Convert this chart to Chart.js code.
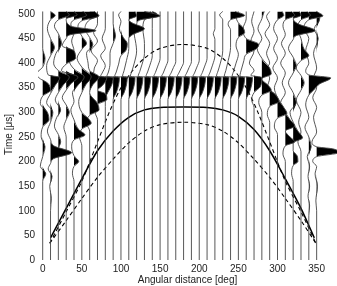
<!DOCTYPE html>
<html>
<head>
<meta charset="utf-8">
<script src="https://cdn.jsdelivr.net/npm/chart.js@4"></script>
<style>
  html, body { margin: 0; padding: 0; background: #fff; }
</style>
</head>
<body>
<canvas id="chart" width="337" height="286"></canvas>
<script>
  // trace positions (deg) and axis ticks
  const angles = [0, 10, 20, 30, 40, 50, 60, 70, 80, 90, 100, 110, 120, 130, 140, 150, 160, 170,
                  180, 190, 200, 210, 220, 230, 240, 250, 260, 270, 280, 290, 300, 310, 320, 330, 340, 350];
  const angleTicks = [0, 50, 100, 150, 200, 250, 300, 350];
  const timeTicks = [0, 50, 100, 150, 200, 250, 300, 350, 400, 450, 500];

  // wiggles: [time µs, amplitude deg], top to bottom
  const w000 = [[505,0],[430,0],[410,3],[392,0],[378,-8],[368,-3],[360,6],[345,10],[333,0],[318,-3],[300,6],[285,8],[270,0],[250,-2],[230,3],[210,0],[190,-3],[175,4],[160,0],[0,0]];
  const w010 = [[505,0],[497,6],[488,0],[470,-4],[450,0],[432,5],[415,0],[395,-5],[376,-3],[371,12],[355,6],[338,0],[320,-5],[300,3],[280,0],[262,-4],[245,0],[232,4],[218,27],[206,4],[196,0],[185,-3],[170,2],[150,-1],[125,1],[100,0],[0,0]];
  const w020 = [[505,10],[498,14],[488,0],[475,-5],[460,0],[440,4],[420,-3],[400,-6],[385,0],[372,14],[355,6],[340,0],[325,-4],[305,3],[290,-2],[272,-5],[255,0],[240,3],[225,0],[0,0]];
  const w030 = [[505,10],[498,14],[490,0],[475,6],[466,38],[458,6],[450,0],[435,-5],[425,10],[410,12],[398,0],[385,-6],[372,15],[358,6],[345,0],[330,-5],[315,0],[300,4],[285,0],[270,-3],[250,0],[0,0]];
  const w040 = [[505,12],[497,16],[488,0],[478,-4],[462,0],[445,-3],[425,0],[405,-6],[388,0],[372,13],[355,5],[340,-2],[322,0],[305,-4],[285,0],[265,6],[254,14],[244,0],[230,-3],[212,0],[200,6],[190,0],[175,-2],[160,0],[0,0]];
  const w050 = [[505,16],[496,22],[486,0],[472,-5],[455,0],[440,6],[428,0],[410,-6],[392,0],[372,12],[356,5],[340,0],[322,-4],[300,0],[288,8],[278,12],[266,0],[250,-3],[232,0],[0,0]];
  const w060 = [[505,6],[496,10],[488,0],[470,-6],[452,0],[438,4],[420,-4],[400,-2],[385,0],[372,12],[356,4],[340,0],[318,10],[305,12],[294,0],[278,-4],[262,0],[0,0]];
  const w070 = [[505,0],[480,0],[462,-5],[445,0],[425,-8],[405,0],[390,-4],[374,-5],[371,12],[354,6],[345,0],[338,10],[326,12],[316,0],[300,-3],[285,0],[0,0]];
  const w080 = [[505,0],[470,0],[450,-4],[430,0],[415,-6],[395,0],[380,-4],[373,-6],[371,10],[355,8],[340,3],[328,0],[312,0],[0,0]];
  const w090 = [[505,0],[480,0],[455,3],[440,0],[420,-4],[400,-4],[382,-6],[373,-8],[371,8],[356,7],[340,4],[326,0],[0,0]];
  const w100 = [[505,0],[498,-3],[485,0],[470,-2],[452,3],[440,8],[425,6],[415,0],[398,-3],[382,-6],[373,-8],[371,8],[356,7],[340,4],[326,0],[0,0]];
  const w110 = [[505,8],[496,10],[488,0],[482,4],[470,20],[458,5],[450,0],[430,0],[405,-3],[385,-6],[373,-8],[371,8],[356,7],[340,4],[326,0],[0,0]];
  const w120 = [[505,10],[496,30],[488,5],[480,0],[460,-3],[440,-1],[425,0],[400,-3],[384,-6],[373,-8],[371,8],[356,7],[340,4],[326,0],[0,0]];
  const w130 = [[505,8],[496,12],[488,0],[470,-2],[440,0],[420,0],[398,-3],[383,-6],[373,-8],[371,8],[356,7],[340,4],[326,0],[0,0]];
  const w140 = [[505,0],[500,6],[490,0],[470,0],[415,0],[396,-3],[382,-6],[373,-8],[371,8],[356,7],[340,4],[326,0],[0,0]];
  const w150 = [[505,0],[410,0],[394,-3],[381,-6],[373,-8],[371,8],[356,7],[340,4],[326,0],[0,0]];
  const w160 = [[505,0],[406,0],[392,-3],[380,-6],[373,-8],[371,8],[356,7],[340,4],[326,0],[0,0]];
  const w170 = [[505,0],[403,0],[391,-3],[380,-6],[373,-8],[371,8],[356,7],[340,4],[326,0],[0,0]];
  const w180 = [[505,0],[402,0],[390,-3],[380,-6],[373,-8],[371,8],[356,7],[340,4],[326,0],[0,0]];
  const w190 = [[505,0],[403,0],[391,-3],[380,-6],[373,-8],[371,8],[356,7],[340,4],[326,0],[0,0]];
  const w200 = [[505,0],[406,0],[392,-3],[380,-6],[373,-8],[371,8],[356,7],[340,4],[326,0],[0,0]];
  const w210 = [[505,0],[410,0],[394,-3],[381,-6],[373,-8],[371,8],[356,7],[340,4],[326,0],[0,0]];
  const w220 = [[505,0],[470,0],[460,-2],[448,0],[415,0],[396,-3],[382,-6],[373,-8],[371,8],[356,7],[340,4],[326,0],[0,0]];
  const w230 = [[505,0],[498,-4],[488,0],[425,0],[400,-3],[384,-6],[373,-8],[371,8],[356,7],[340,4],[326,0],[0,0]];
  const w240 = [[505,6],[497,18],[488,0],[478,-3],[468,0],[432,0],[405,-3],[385,-6],[373,-8],[371,8],[356,7],[340,4],[326,0],[0,0]];
  const w250 = [[505,0],[495,-3],[482,0],[472,6],[462,8],[452,0],[435,-3],[418,0],[400,-3],[384,-6],[373,-8],[371,8],[356,7],[340,4],[326,0],[0,0]];
  const w260 = [[505,0],[490,0],[470,-4],[450,0],[438,16],[428,12],[418,0],[405,-3],[388,-6],[373,-8],[371,8],[356,7],[340,4],[326,0],[0,0]];
  const w270 = [[505,0],[485,-3],[465,0],[445,-4],[425,0],[400,-6],[385,0],[375,-4],[371,10],[352,8],[340,0],[325,-3],[310,0],[0,0]];
  const w280 = [[505,3],[490,0],[470,-5],[450,0],[430,-6],[410,0],[390,10],[378,12],[368,0],[355,8],[345,12],[335,0],[320,-4],[300,0],[0,0]];
  const w290 = [[505,0],[495,-4],[478,0],[460,-6],[440,0],[420,-4],[400,0],[385,-6],[370,0],[350,-3],[335,8],[322,12],[312,0],[295,-3],[280,0],[0,0]];
  const w300 = [[505,6],[497,8],[488,0],[470,-5],[450,0],[430,-5],[410,0],[390,-6],[370,0],[350,-4],[330,0],[310,8],[298,12],[288,0],[270,-4],[255,0],[0,0]];
  const w310 = [[505,8],[497,12],[488,0],[475,-3],[458,0],[440,-5],[420,0],[400,-6],[380,0],[360,-4],[340,0],[320,-6],[300,0],[285,6],[272,12],[262,0],[250,6],[240,12],[232,0],[215,-3],[200,0],[0,0]];
  const w320 = [[505,8],[497,10],[490,0],[480,6],[466,28],[456,4],[448,0],[430,-6],[412,0],[395,4],[380,0],[360,-6],[340,0],[320,4],[300,-4],[280,0],[262,6],[248,12],[238,0],[222,0],[212,5],[200,6],[192,0],[175,-2],[160,0],[0,0]];
  const w330 = [[505,8],[497,12],[488,0],[470,-4],[450,0],[428,4],[415,10],[405,0],[390,-6],[375,0],[360,4],[345,0],[325,-6],[300,0],[280,-3],[260,0],[240,-4],[220,0],[0,0]];
  const w340 = [[505,10],[496,18],[488,0],[470,-6],[450,0],[425,-4],[400,0],[385,-4],[376,0],[370,28],[358,14],[345,6],[335,0],[315,-4],[290,0],[270,-5],[250,0],[230,3],[210,-2],[190,1],[170,-1],[150,1],[130,-1],[110,1],[90,0],[0,0]];
  const w350 = [[505,0],[490,4],[470,-3],[450,2],[420,-4],[390,0],[370,-4],[350,0],[330,-5],[310,0],[290,-4],[260,0],[240,-6],[230,0],[226,20],[218,28],[210,0],[200,-5],[190,0],[175,-2],[150,1],[120,-1],[100,0],[0,0]];
  const wiggles = [w000, w010, w020, w030, w040, w050, w060, w070, w080, w090, w100, w110, w120, w130, w140, w150, w160, w170,
                   w180, w190, w200, w210, w220, w230, w240, w250, w260, w270, w280, w290, w300, w310, w320, w330, w340, w350];

  // travel-time curves
  const solidDeg = [10, 30, 50, 70, 90, 110, 130, 150, 180, 210, 230, 250, 270, 290, 310, 330, 347];
  const solidTime = [45, 105, 165, 222, 262, 290, 305, 310, 311, 310, 305, 292, 265, 222, 165, 105, 45];
  const outerDeg = [9, 30, 50, 70, 85, 100, 115, 130, 150, 180, 210, 230, 245, 260, 275, 290, 310, 330, 349];
  const outerTime = [34, 98, 160, 240, 300, 350, 385, 410, 430, 438, 430, 410, 385, 350, 300, 240, 160, 98, 34];
  const innerDeg = [9, 30, 50, 70, 90, 110, 130, 150, 180, 210, 230, 250, 270, 290, 310, 330, 349];
  const innerTime = [34, 80, 125, 168, 205, 238, 262, 275, 280, 275, 262, 238, 205, 168, 125, 80, 34];

  const datasets = [];
  angles.forEach((a, i) => {
    const w = wiggles[i];
    datasets.push({
      data: w.map(p => ({ x: a + p[1], y: p[0] })),
      borderColor: '#444', borderWidth: 0.9, pointRadius: 0,
      cubicInterpolationMode: 'monotone', fill: false
    });
    // positive lobes filled black
    datasets.push({
      data: w.map(p => ({ x: a + Math.max(p[1], 0), y: p[0] })),
      borderWidth: 0, borderColor: 'rgba(0,0,0,0)', backgroundColor: '#000', pointRadius: 0,
      cubicInterpolationMode: 'monotone', fill: { value: a }
    });
  });
  datasets.push({
    data: solidDeg.map((d, i) => ({ x: d, y: solidTime[i] })),
    borderColor: '#000', borderWidth: 1.5, pointRadius: 0, tension: 0.3, fill: false
  });
  datasets.push({
    data: outerDeg.map((d, i) => ({ x: d, y: outerTime[i] })),
    borderColor: '#000', borderWidth: 1.1, borderDash: [4, 3], pointRadius: 0, tension: 0.3, fill: false
  });
  datasets.push({
    data: innerDeg.map((d, i) => ({ x: d, y: innerTime[i] })),
    borderColor: '#000', borderWidth: 1.1, borderDash: [4, 3], pointRadius: 0, tension: 0.3, fill: false
  });

  const font = { family: "'Liberation Sans', Arial, sans-serif", size: 10 };

  new Chart(document.getElementById('chart'), {
    type: 'line',
    data: { datasets: datasets },
    options: {
      responsive: false,
      animation: false,
      indexAxis: 'y',
      layout: { padding: { top: 5, right: 0, left: 0, bottom: 0 } },
      plugins: { legend: { display: false }, tooltip: { enabled: false } },
      scales: {
        x: {
          type: 'linear', min: -6, max: 376,
          grid: { display: false, drawTicks: false },
          border: { display: false },
          afterBuildTicks: s => { s.ticks = angleTicks.map(v => ({ value: v })); },
          afterFit: s => { s.height = 26; },
          ticks: { font: font, color: '#222', padding: 3, maxRotation: 0 },
          title: { display: true, text: 'Angular distance [deg]', font: font, color: '#222', padding: 0 }
        },
        y: {
          type: 'linear', min: 0, max: 510,
          grid: { display: false, drawTicks: false },
          border: { display: false },
          afterBuildTicks: s => { s.ticks = timeTicks.map(v => ({ value: v })); },
          afterFit: s => { s.width = 38; },
          ticks: { font: font, color: '#222', padding: 3 },
          title: { display: true, text: 'Time [μs]', font: font, color: '#222', padding: 3 }
        }
      }
    }
  });
</script>
</body>
</html>
